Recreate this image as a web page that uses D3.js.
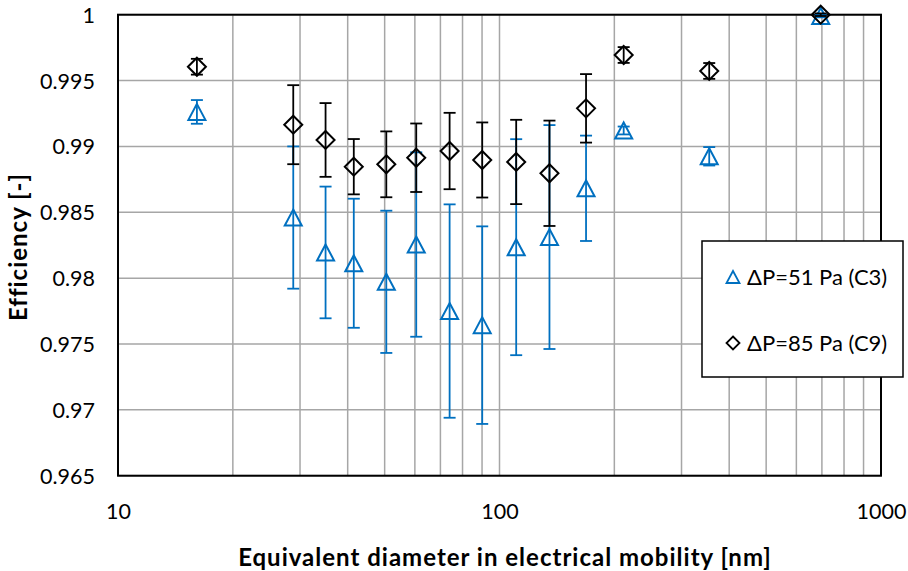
<!DOCTYPE html>
<html><head><meta charset="utf-8">
<script src="https://cdn.jsdelivr.net/npm/d3@7"></script>
<style>body{margin:0;background:#fff} text{font-family:Lato,'Open Sans',sans-serif;fill:#000}</style>
</head><body><svg id="c" width="908" height="571"></svg>
<script>
const diameters = [16.1, 28.8, 35.0, 41.5, 50.5, 60.5, 74.0, 90.1, 110.6, 135.2, 168.6, 211.6, 354.6, 695];
const effC3 = [0.99262, 0.98460, 0.98195, 0.98113, 0.97972, 0.98255, 0.97750, 0.97643, 0.98235, 0.98312, 0.98682, 0.99121, 0.98925, 0.9999];
const errC3 = [0.0009, 0.0054, 0.0050, 0.0049, 0.0054, 0.0070, 0.0081, 0.0075, 0.0082, 0.0085, 0.0040, 0.0003, 0.0007, 0.0001];
const effC9 = [0.99605, 0.99165, 0.99049, 0.98846, 0.98864, 0.98914, 0.98965, 0.98897, 0.98882, 0.98796, 0.99289, 0.99694, 0.99573, 1.0];
const errC9 = [0.0006, 0.0030, 0.0028, 0.0021, 0.0025, 0.0026, 0.0029, 0.00285, 0.0032, 0.0040, 0.0026, 0.0006, 0.0006, 0.0001];
const seriesNames = ["\u0394P=51 Pa (C3)", "\u0394P=85 Pa (C9)"];
const yTicks = [0.965, 0.97, 0.975, 0.98, 0.985, 0.99, 0.995, 1];
const xTicks = [10, 100, 1000];
const xMinor = [20,30,40,50,60,70,80,90,200,300,400,500,600,700,800,900];
const xTitle = "Equivalent  diameter in electrical mobility [nm]";
const yTitle = "Efficiency  [-]";

const svg = d3.select("#c");
const L = 118, R = 881, T = 14.7, B = 475.7;
const x = d3.scaleLog().domain([10, 1000]).range([L, R]);
const y = d3.scaleLinear().domain([0.965, 1]).range([B, T]);
const blue = "#0070c0", grid = "#a6a6a6";

// gridlines
const g = svg.append("g");
g.selectAll(".vx").data(xMinor.concat([100])).enter().append("line")
  .attr("x1", d => x(d)).attr("x2", d => x(d)).attr("y1", T).attr("y2", B)
  .attr("stroke", grid).attr("stroke-width", 1.5);
g.selectAll(".hy").data(yTicks).enter().append("line")
  .attr("x1", L).attr("x2", R).attr("y1", d => y(d)).attr("y2", d => y(d))
  .attr("stroke", grid).attr("stroke-width", 1.5);

// axes
const yAxis = d3.axisLeft(y).tickValues(yTicks).tickSize(0).tickPadding(23).tickFormat(d => d3.format("")(+d.toFixed(3)));
const ya = svg.append("g").attr("transform", `translate(${L},0)`).call(yAxis);
ya.select(".domain").remove();
ya.selectAll("text").style("font-size", "21.5px").attr("dy", "0.35em");
const xAxis = d3.axisBottom(x).tickValues(xTicks).tickSize(0).tickPadding(28).tickFormat(d3.format("d"));
const xa = svg.append("g").attr("transform", `translate(0,${B})`).call(xAxis);
xa.select(".domain").remove();
xa.selectAll("text").style("font-size", "21.5px");

// plot border
svg.append("rect").attr("x", L).attr("y", T).attr("width", R - L).attr("height", B - T)
  .attr("fill", "none").attr("stroke", "#000").attr("stroke-width", 2);

function triPath(cx, cy, w, h) {
  return `M${cx},${cy - h/2}L${cx + w/2},${cy + h/2}L${cx - w/2},${cy + h/2}Z`;
}
function diaPath(cx, cy, s) {
  return `M${cx},${cy - s/2}L${cx + s/2},${cy}L${cx},${cy + s/2}L${cx - s/2},${cy}Z`;
}

function drawSeries(vals, errs, color, shape) {
  const data = diameters.map((d, i) => ({d, v: vals[i], e: errs[i]}));
  const s = svg.append("g");
  const eb = s.selectAll(".eb").data(data).enter().append("g").attr("stroke", color).attr("stroke-width", 1.8);
  eb.append("line").attr("x1", d => x(d.d)).attr("x2", d => x(d.d))
    .attr("y1", d => y(d.v + d.e)).attr("y2", d => y(d.v - d.e));
  eb.append("line").attr("x1", d => x(d.d) - 6).attr("x2", d => x(d.d) + 6)
    .attr("y1", d => y(d.v + d.e)).attr("y2", d => y(d.v + d.e));
  eb.append("line").attr("x1", d => x(d.d) - 6).attr("x2", d => x(d.d) + 6)
    .attr("y1", d => y(d.v - d.e)).attr("y2", d => y(d.v - d.e));
  s.selectAll(".m").data(data).enter().append("path")
    .attr("d", d => shape === "tri" ? triPath(x(d.d), y(d.v), 17, 16) : diaPath(x(d.d), y(d.v), 18))
    .attr("fill", "none").attr("stroke", color).attr("stroke-width", 2);
}
drawSeries(effC3, errC3, blue, "tri");
drawSeries(effC9, errC9, "#000", "dia");

// legend
const lg = svg.append("g");
lg.append("rect").attr("x", 702).attr("y", 241).attr("width", 201).attr("height", 136)
  .attr("fill", "#fff").attr("stroke", "#000").attr("stroke-width", 1.5);
const legItems = [{name: seriesNames[0], color: blue, shape: "tri", cy: 277}, {name: seriesNames[1], color: "#000", shape: "dia", cy: 343}];
legItems.forEach(it => {
  lg.append("path").attr("d", it.shape === "tri" ? triPath(733, it.cy, 13, 12) : diaPath(733, it.cy, 13))
    .attr("fill", "none").attr("stroke", it.color).attr("stroke-width", 1.8);
  lg.append("text").attr("x", 747).attr("y", it.cy).attr("dy", "0.35em").style("font-size", "22px").text(it.name);
});

// titles
svg.append("text").attr("x", 505).attr("y", 566).attr("text-anchor", "middle")
  .style("font-size", "24px").style("font-weight", "bold").style("letter-spacing", "1px").text(xTitle);
svg.append("text").attr("transform", "translate(27,247) rotate(-90)").attr("text-anchor", "middle")
  .style("font-size", "24px").style("font-weight", "bold").style("letter-spacing", "1px").text(yTitle);
</script></body></html>
